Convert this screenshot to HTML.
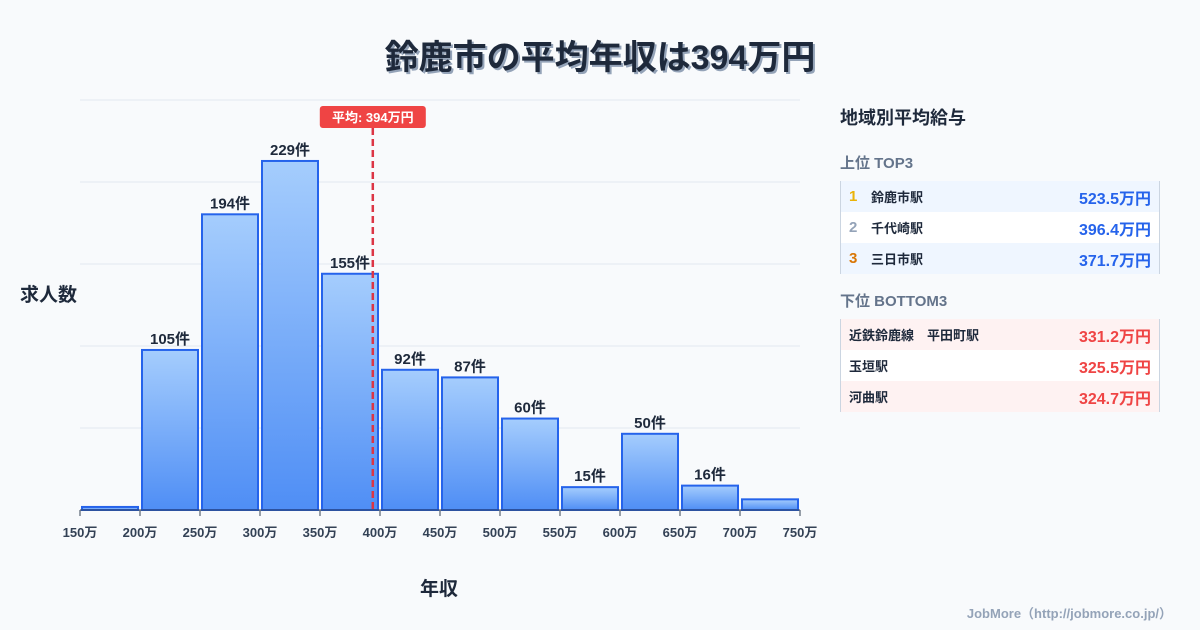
<!DOCTYPE html>
<html><head><meta charset="utf-8"><style>
body{margin:0;width:1200px;height:630px;background:#f8fafc;font-family:"Liberation Sans","Noto Sans CJK JP",sans-serif;position:relative;overflow:hidden;color:#1e293b}
.title{position:absolute;top:30px;left:0;width:1200px;text-align:center;font-size:34px;font-weight:bold;color:#1e293b;text-shadow:2px 2px 0 #94a3b8}
.side{position:absolute;left:840px;width:320px}
.h{font-size:18px;font-weight:bold}
.sub{font-size:15px;font-weight:bold;color:#64748b}
.row{height:31px;display:flex;align-items:center;font-size:13px;font-weight:bold;border-right:1px solid #cbd5e1;box-sizing:border-box}
.num{width:22px;padding-left:8px;font-size:15px}
.val{margin-left:auto;padding-right:8px;font-size:16px}
</style></head><body>
<div class="title">鈴鹿市の平均年収は394万円</div>
<svg id="chart" width="820" height="630" style="position:absolute;left:0;top:0">
<defs><linearGradient id="g" x1="0" y1="0" x2="0" y2="1"><stop offset="0" stop-color="#a5cdfd"/><stop offset="1" stop-color="#4f8ef5"/></linearGradient></defs>
</svg>
<div style="position:absolute;left:20px;top:280px;font-size:19px;font-weight:bold">求人数</div>
<div style="position:absolute;left:420px;top:574px;font-size:19px;font-weight:bold">年収</div>
<div class="side" style="top:104px">
<div class="h">地域別平均給与</div>
<div class="sub" style="margin-top:22px;margin-bottom:8px">上位 TOP3</div>
<div style="border-left:1px solid #cbd5e1">
<div class="row" style="background:#eff6ff"><span class="num" style="color:#eab308">1</span><span>鈴鹿市駅</span><span class="val" style="color:#2563eb">523.5万円</span></div>
<div class="row" style="background:#fff"><span class="num" style="color:#94a3b8">2</span><span>千代崎駅</span><span class="val" style="color:#2563eb">396.4万円</span></div>
<div class="row" style="background:#eff6ff"><span class="num" style="color:#d97706">3</span><span>三日市駅</span><span class="val" style="color:#2563eb">371.7万円</span></div>
</div>
<div class="sub" style="margin-top:16px;margin-bottom:8px">下位 BOTTOM3</div>
<div style="border-left:1px solid #cbd5e1">
<div class="row" style="background:#fef2f2;padding-left:8px"><span>近鉄鈴鹿線　平田町駅</span><span class="val" style="color:#ef4444">331.2万円</span></div>
<div class="row" style="background:#fff;padding-left:8px"><span>玉垣駅</span><span class="val" style="color:#ef4444">325.5万円</span></div>
<div class="row" style="background:#fef2f2;padding-left:8px"><span>河曲駅</span><span class="val" style="color:#ef4444">324.7万円</span></div>
</div></div>
<div style="position:absolute;right:28px;top:603px;font-size:13px;font-weight:bold;color:#94a3b8">JobMore（http://jobmore.co.jp/）</div>
<script>
const binStarts=[150,200,250,300,350,400,450,500,550,600,650,700];
const counts=[2,105,194,229,155,92,87,60,15,50,16,7];
const labels=[null,"105件","194件","229件","155件","92件","87件","60件","15件","50件","16件",null];
const xTicks=[150,200,250,300,350,400,450,500,550,600,650,700,750];
const avg=394;
const yMax=269;
const svg=document.getElementById('chart');const NS="http://www.w3.org/2000/svg";
const X=v=>80+(v-150)*1.2, Y=v=>510-v/yMax*410;
function mk(t,a){const e=document.createElementNS(NS,t);for(const k in a)e.setAttribute(k,a[k]);svg.appendChild(e);return e;}
for(let i=0;i<5;i++){const l=mk('line',{x1:80,x2:800,y1:100+i*82,y2:100+i*82,stroke:'#e2e8f0'});

}
binStarts.forEach((b,i)=>{const x0=X(b)+2,x1=X(b+50)-2,y=Y(counts[i]);
const r=mk('rect',{x:x0,y:y,width:x1-x0,height:510-y,fill:'url(#g)',stroke:'#2563eb','stroke-width':2});


if(labels[i]){const t=mk('text',{x:(x0+x1)/2,y:y-6,'text-anchor':'middle','font-size':15,'font-weight':'bold',fill:'#1e293b'});t.textContent=labels[i];

}});
mk('line',{x1:80,x2:800,y1:510,y2:510,stroke:'#334155'});
xTicks.forEach(v=>{mk('line',{x1:X(v),x2:X(v),y1:510,y2:516,stroke:'#334155'});
const t=mk('text',{x:X(v),y:537,'text-anchor':'middle','font-size':13,'font-weight':'bold',fill:'#334155'});t.textContent=v+'万';

});
const ax=X(avg);
const al=mk('line',{x1:ax,x2:ax,y1:128,y2:510,stroke:'#dc3545','stroke-width':2.5,'stroke-dasharray':'7,4'});


mk('rect',{x:ax-53,y:106,width:106,height:22,rx:3,fill:'#ef4444'});
const at=mk('text',{x:ax,y:122,'text-anchor':'middle','font-size':13,'font-weight':'bold',fill:'#fff'});at.textContent='平均: '+avg+'万円';


</script>
</body></html>
